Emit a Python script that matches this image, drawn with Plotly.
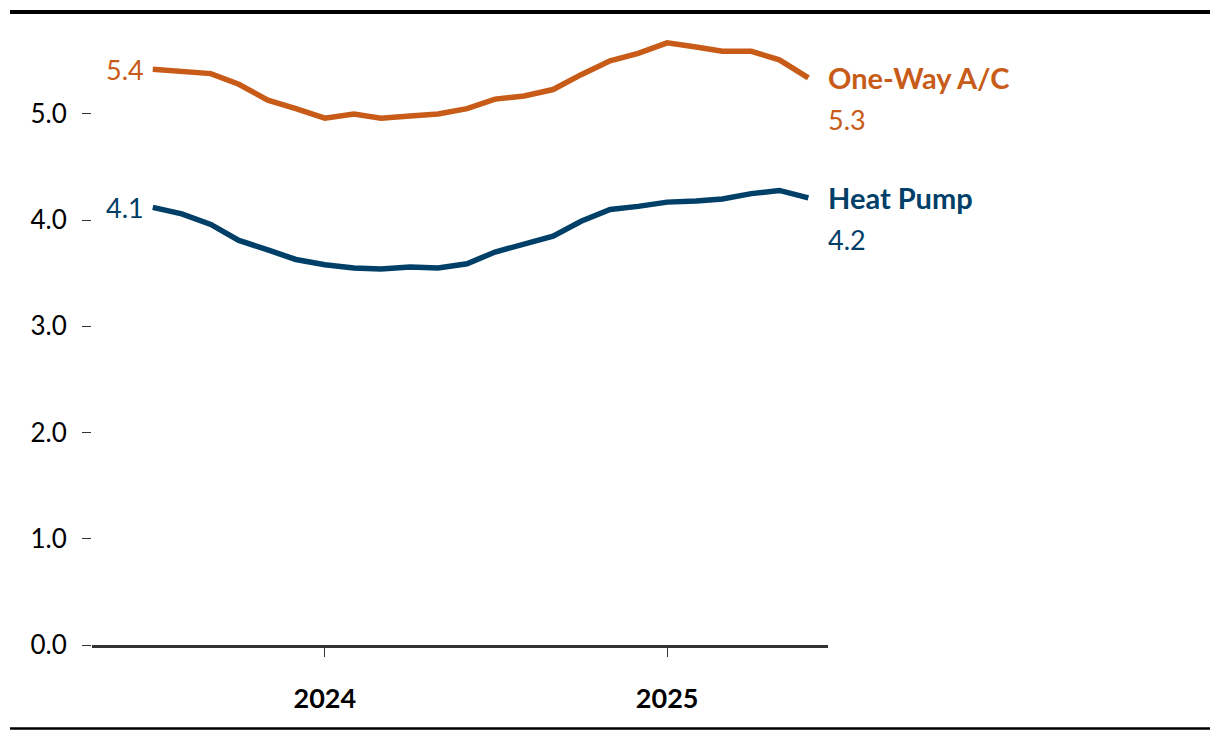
import plotly.graph_objects as go
import pandas as pd

months = pd.date_range("2023-07-01", "2025-06-01", freq="MS")

one_way_ac = [5.42, 5.40, 5.38, 5.28, 5.13, 5.05, 4.96, 5.00, 4.96, 4.98, 5.00, 5.05,
              5.14, 5.17, 5.23, 5.37, 5.50, 5.57, 5.67, 5.63, 5.59, 5.59, 5.51, 5.34]
heat_pump = [4.12, 4.06, 3.96, 3.81, 3.72, 3.63, 3.58, 3.55, 3.54, 3.56, 3.55, 3.59,
             3.70, 3.77, 3.85, 3.99, 4.10, 4.13, 4.17, 4.18, 4.20, 4.25, 4.28, 4.21]

series = [
    ("One-Way A/C", one_way_ac, "#C75B17"),
    ("Heat Pump", heat_pump, "#003F68"),
]

y_ticks = [0, 1, 2, 3, 4, 5]
x_ticks = ["2024-01-01", "2025-01-01"]
x_ticktext = ["<b>2024</b>", "<b>2025</b>"]

FONT = "Lato"

# page has an 8px body margin; figure coords = page coords - 8
OFF = 8
W, H = 1204, 724
L = 92 - OFF
PR = 828 - OFF
T = 29 - OFF
PB = 645 - OFF
R = W - PR
B = H - PB

fig = go.Figure()
for name, vals, color in series:
    fig.add_trace(go.Scatter(
        x=months, y=vals, mode="lines", name=name,
        line=dict(color=color, width=5.5), hoverinfo="skip",
    ))
    fig.add_annotation(x=months[0], y=vals[0], text=f"{vals[0]:.1f}",
                       xanchor="right", yanchor="middle", xshift=-7, showarrow=False,
                       font=dict(family=FONT, size=27, color=color))
    fig.add_annotation(x=months[-1], y=vals[-1], text=f"<b>{name}</b>",
                       xanchor="left", yanchor="middle", xshift=18, yshift=0, showarrow=False,
                       font=dict(family=FONT, size=29, color=color))
    fig.add_annotation(x=months[-1], y=vals[-1], text=f"{vals[-1]:.1f}",
                       xanchor="left", yanchor="middle", xshift=18, yshift=-42, showarrow=False,
                       font=dict(family=FONT, size=27, color=color))

pw = PR - L
ph = PB - T
def px_x(p):
    return (p - OFF - L) / pw
def px_y(p):
    return (PB - (p - OFF)) / ph

fig.add_shape(type="line", xref="paper", yref="paper",
              x0=px_x(10), x1=px_x(1210), y0=px_y(12), y1=px_y(12),
              line=dict(color="black", width=4))
fig.add_shape(type="line", xref="paper", yref="paper",
              x0=px_x(10), x1=px_x(1210), y0=px_y(728.5), y1=px_y(728.5),
              line=dict(color="black", width=2.5))

fig.update_layout(
    width=W, height=H,
    margin=dict(l=L, r=R, t=T, b=B),
    paper_bgcolor="white", plot_bgcolor="white",
    showlegend=False,
    font=dict(family=FONT, size=24, color="black"),
)
fig.update_xaxes(
    range=["2023-04-27", "2025-06-22"],
    showgrid=False, zeroline=False,
    showline=True, linecolor="#333333", linewidth=2.5,
    ticks="outside", ticklen=9, tickwidth=1, tickcolor="#333333",
    tickvals=x_ticks, ticktext=x_ticktext,
    tickfont=dict(family=FONT, size=27, color="black"),
    ticklabelstandoff=19,
)
fig.update_yaxes(
    range=[0, 5.8],
    showgrid=False, zeroline=False, showline=False,
    ticks="outside", ticklen=9, tickwidth=1, tickcolor="#333333",
    tickvals=y_ticks, tickformat=".1f",
    tickfont=dict(family=FONT, size=26, color="black"),
    ticklabelstandoff=10,
)

fig.write_html("out.html")
